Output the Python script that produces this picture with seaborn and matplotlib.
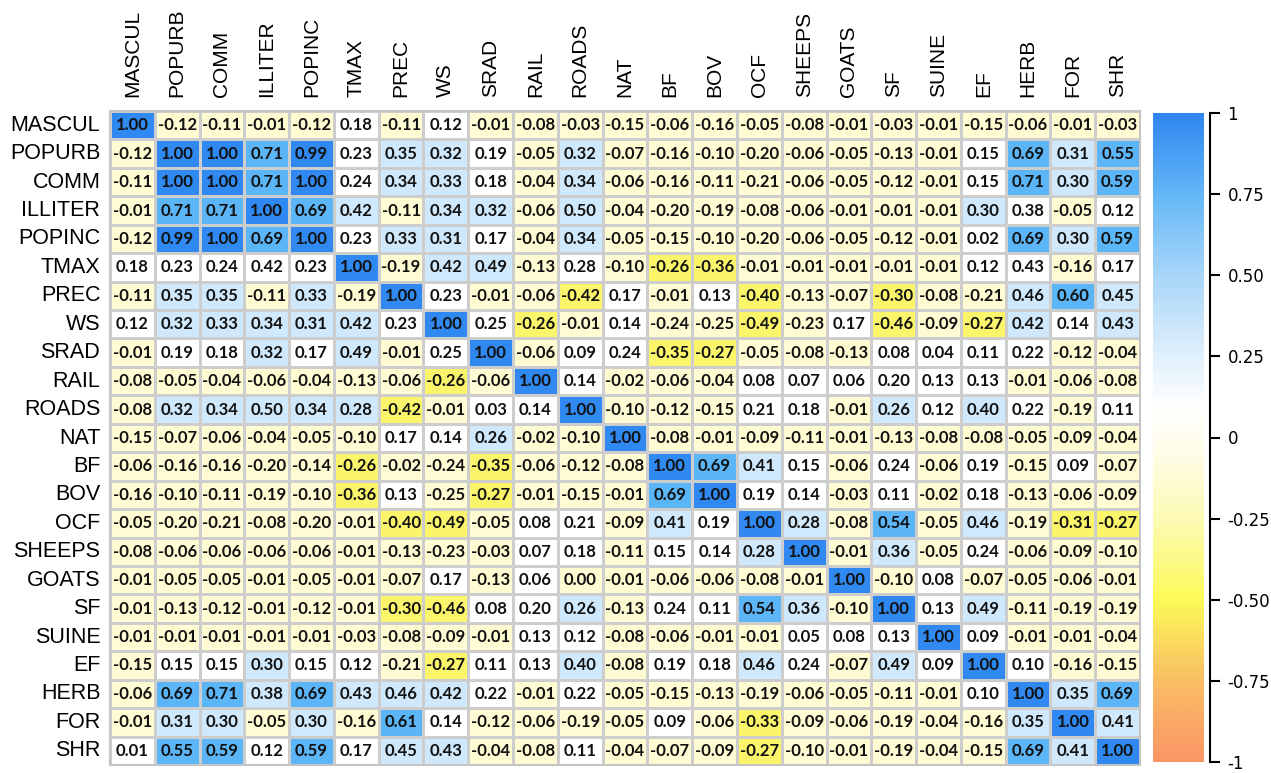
import numpy as np
import pandas as pd
import matplotlib
matplotlib.use('Agg')
import matplotlib.pyplot as plt
import seaborn as sns
from matplotlib.colors import ListedColormap, BoundaryNorm, LinearSegmentedColormap


variables = ['MASCUL', 'POPURB', 'COMM', 'ILLITER', 'POPINC', 'TMAX', 'PREC', 'WS',
             'SRAD', 'RAIL', 'ROADS', 'NAT', 'BF', 'BOV', 'OCF', 'SHEEPS', 'GOATS',
             'SF', 'SUINE', 'EF', 'HERB', 'FOR', 'SHR']

corr_rows = [
    [1.00, -0.12, -0.11, -0.01, -0.12, 0.18, -0.11, 0.12, -0.01, -0.08, -0.03, -0.15, -0.06, -0.16, -0.05, -0.08, -0.01, -0.03, -0.01, -0.15, -0.06, -0.01, -0.03],
    [-0.12, 1.00, 1.00, 0.71, 0.99, 0.23, 0.35, 0.32, 0.19, -0.05, 0.32, -0.07, -0.16, -0.10, -0.20, -0.06, -0.05, -0.13, -0.01, 0.15, 0.69, 0.31, 0.55],
    [-0.11, 1.00, 1.00, 0.71, 1.00, 0.24, 0.34, 0.33, 0.18, -0.04, 0.34, -0.06, -0.16, -0.11, -0.21, -0.06, -0.05, -0.12, -0.01, 0.15, 0.71, 0.30, 0.59],
    [-0.01, 0.71, 0.71, 1.00, 0.69, 0.42, -0.11, 0.34, 0.32, -0.06, 0.50, -0.04, -0.20, -0.19, -0.08, -0.06, -0.01, -0.01, -0.01, 0.30, 0.38, -0.05, 0.12],
    [-0.12, 0.99, 1.00, 0.69, 1.00, 0.23, 0.33, 0.31, 0.17, -0.04, 0.34, -0.05, -0.15, -0.10, -0.20, -0.06, -0.05, -0.12, -0.01, 0.02, 0.69, 0.30, 0.59],
    [0.18, 0.23, 0.24, 0.42, 0.23, 1.00, -0.19, 0.42, 0.49, -0.13, 0.28, -0.10, -0.26, -0.36, -0.01, -0.01, -0.01, -0.01, -0.01, 0.12, 0.43, -0.16, 0.17],
    [-0.11, 0.35, 0.35, -0.11, 0.33, -0.19, 1.00, 0.23, -0.01, -0.06, -0.42, 0.17, -0.01, 0.13, -0.40, -0.13, -0.07, -0.30, -0.08, -0.21, 0.46, 0.60, 0.45],
    [0.12, 0.32, 0.33, 0.34, 0.31, 0.42, 0.23, 1.00, 0.25, -0.26, -0.01, 0.14, -0.24, -0.25, -0.49, -0.23, 0.17, -0.46, -0.09, -0.27, 0.42, 0.14, 0.43],
    [-0.01, 0.19, 0.18, 0.32, 0.17, 0.49, -0.01, 0.25, 1.00, -0.06, 0.09, 0.24, -0.35, -0.27, -0.05, -0.08, -0.13, 0.08, 0.04, 0.11, 0.22, -0.12, -0.04],
    [-0.08, -0.05, -0.04, -0.06, -0.04, -0.13, -0.06, -0.26, -0.06, 1.00, 0.14, -0.02, -0.06, -0.04, 0.08, 0.07, 0.06, 0.20, 0.13, 0.13, -0.01, -0.06, -0.08],
    [-0.08, 0.32, 0.34, 0.50, 0.34, 0.28, -0.42, -0.01, 0.03, 0.14, 1.00, -0.10, -0.12, -0.15, 0.21, 0.18, -0.01, 0.26, 0.12, 0.40, 0.22, -0.19, 0.11],
    [-0.15, -0.07, -0.06, -0.04, -0.05, -0.10, 0.17, 0.14, 0.26, -0.02, -0.10, 1.00, -0.08, -0.01, -0.09, -0.11, -0.01, -0.13, -0.08, -0.08, -0.05, -0.09, -0.04],
    [-0.06, -0.16, -0.16, -0.20, -0.14, -0.26, -0.02, -0.24, -0.35, -0.06, -0.12, -0.08, 1.00, 0.69, 0.41, 0.15, -0.06, 0.24, -0.06, 0.19, -0.15, 0.09, -0.07],
    [-0.16, -0.10, -0.11, -0.19, -0.10, -0.36, 0.13, -0.25, -0.27, -0.01, -0.15, -0.01, 0.69, 1.00, 0.19, 0.14, -0.03, 0.11, -0.02, 0.18, -0.13, -0.06, -0.09],
    [-0.05, -0.20, -0.21, -0.08, -0.20, -0.01, -0.40, -0.49, -0.05, 0.08, 0.21, -0.09, 0.41, 0.19, 1.00, 0.28, -0.08, 0.54, -0.05, 0.46, -0.19, -0.31, -0.27],
    [-0.08, -0.06, -0.06, -0.06, -0.06, -0.01, -0.13, -0.23, -0.03, 0.07, 0.18, -0.11, 0.15, 0.14, 0.28, 1.00, -0.01, 0.36, -0.05, 0.24, -0.06, -0.09, -0.10],
    [-0.01, -0.05, -0.05, -0.01, -0.05, -0.01, -0.07, 0.17, -0.13, 0.06, 0.00, -0.01, -0.06, -0.06, -0.08, -0.01, 1.00, -0.10, 0.08, -0.07, -0.05, -0.06, -0.01],
    [-0.01, -0.13, -0.12, -0.01, -0.12, -0.01, -0.30, -0.46, 0.08, 0.20, 0.26, -0.13, 0.24, 0.11, 0.54, 0.36, -0.10, 1.00, 0.13, 0.49, -0.11, -0.19, -0.19],
    [-0.01, -0.01, -0.01, -0.01, -0.01, -0.03, -0.08, -0.09, -0.01, 0.13, 0.12, -0.08, -0.06, -0.01, -0.01, 0.05, 0.08, 0.13, 1.00, 0.09, -0.01, -0.01, -0.04],
    [-0.15, 0.15, 0.15, 0.30, 0.15, 0.12, -0.21, -0.27, 0.11, 0.13, 0.40, -0.08, 0.19, 0.18, 0.46, 0.24, -0.07, 0.49, 0.09, 1.00, 0.10, -0.16, -0.15],
    [-0.06, 0.69, 0.71, 0.38, 0.69, 0.43, 0.46, 0.42, 0.22, -0.01, 0.22, -0.05, -0.15, -0.13, -0.19, -0.06, -0.05, -0.11, -0.01, 0.10, 1.00, 0.35, 0.69],
    [-0.01, 0.31, 0.30, -0.05, 0.30, -0.16, 0.61, 0.14, -0.12, -0.06, -0.19, -0.05, 0.09, -0.06, -0.33, -0.09, -0.06, -0.19, -0.04, -0.16, 0.35, 1.00, 0.41],
    [0.01, 0.55, 0.59, 0.12, 0.59, 0.17, 0.45, 0.43, -0.04, -0.08, 0.11, -0.04, -0.07, -0.09, -0.27, -0.10, -0.01, -0.19, -0.04, -0.15, 0.69, 0.41, 1.00],
]

# cells are shaded in steps, the colour bar is a smooth ramp
cell_colors = ['#FBF56B', '#FFFBD2', '#FFFFFF', '#CFE8FB', '#5BB5F6', '#2F89F0']
cell_bounds = [-1.01, -0.255, 0.005, 0.255, 0.52, 0.95, 1.01]
# cells that are left white in the original although their value is higher
white_cells = [('TMAX', 'ILLITER'), ('TMAX', 'ROADS'), ('TMAX', 'HERB'), ('ILLITER', 'HERB')]

bar_stops = [-1.0, -0.75, -0.5, -0.25, -0.05, 0.1, 0.3, 0.5, 0.75, 1.0]
bar_colors = ['#F99564', '#F9BE64', '#FCFA5A', '#FDFBB5', '#FFFDE8', '#FFFFFF',
              '#D6EBFB', '#A9D6F9', '#65B8F7', '#2E86F0']
bar_ticks = [1, 0.75, 0.5, 0.25, 0, -0.25, -0.5, -0.75, -1]
bar_labels = ['1', '0.75', '0.50', '0.25', '0', '-0.25', '-0.50', '-0.75', '-1']


df = pd.DataFrame(corr_rows, index=variables, columns=variables)

# shade class of every cell
shade = pd.DataFrame(np.digitize(df.values, cell_bounds[1:-1]), index=variables, columns=variables)
for r, c in white_cells:
    shade.loc[r, c] = 2

W, H = 1271, 773
fig = plt.figure(figsize=(W / 100, H / 100), dpi=100)
ax = fig.add_axes([110 / W, 8 / H, 1030 / W, 654 / H])

sns.heatmap(shade, ax=ax, cmap=ListedColormap(cell_colors),
            vmin=-0.5, vmax=len(cell_colors) - 0.5,
            annot=df, fmt='.2f',
            annot_kws={'fontsize': 12, 'fontweight': 'bold', 'family': 'Lato', 'color': '#111111'},
            linewidths=0.8, linecolor='#CDCDCD', cbar=False)

ax.xaxis.tick_top()
ax.set_xticklabels(variables, rotation=90, fontsize=15, family='Liberation Sans')
ax.set_yticklabels(variables, rotation=0, fontsize=15.5, family='Liberation Sans')
ax.tick_params(axis='x', length=0, pad=10)
ax.tick_params(axis='y', length=0, pad=7)
for s in ax.spines.values():
    s.set_visible(True)
    s.set_color('#C4C4C4')
    s.set_linewidth(1.5)

# colour bar
cax = fig.add_axes([1153 / W, 11 / H, 51 / W, 649 / H])
bar_cmap = LinearSegmentedColormap.from_list(
    'bar', [((v + 1) / 2, c) for v, c in zip(bar_stops, bar_colors)])
cax.imshow(np.linspace(-1, 1, 256)[:, None], aspect='auto', cmap=bar_cmap,
           extent=[0, 1, -1, 1], origin='lower', vmin=-1, vmax=1)
cax.set_xlim(0, 1)
cax.set_ylim(-1, 1)
for side in ['left', 'top', 'bottom']:
    cax.spines[side].set_visible(False)
cax.spines['right'].set_position(('outward', 4))
cax.spines['right'].set_linewidth(1.5)
cax.yaxis.tick_right()
cax.set_yticks(bar_ticks)
cax.set_yticklabels(bar_labels)
cax.set_xticks([])
cax.tick_params(axis='y', length=7, width=1.5, direction='out', labelsize=12, pad=6)

fig.savefig('out.png', dpi=100)
